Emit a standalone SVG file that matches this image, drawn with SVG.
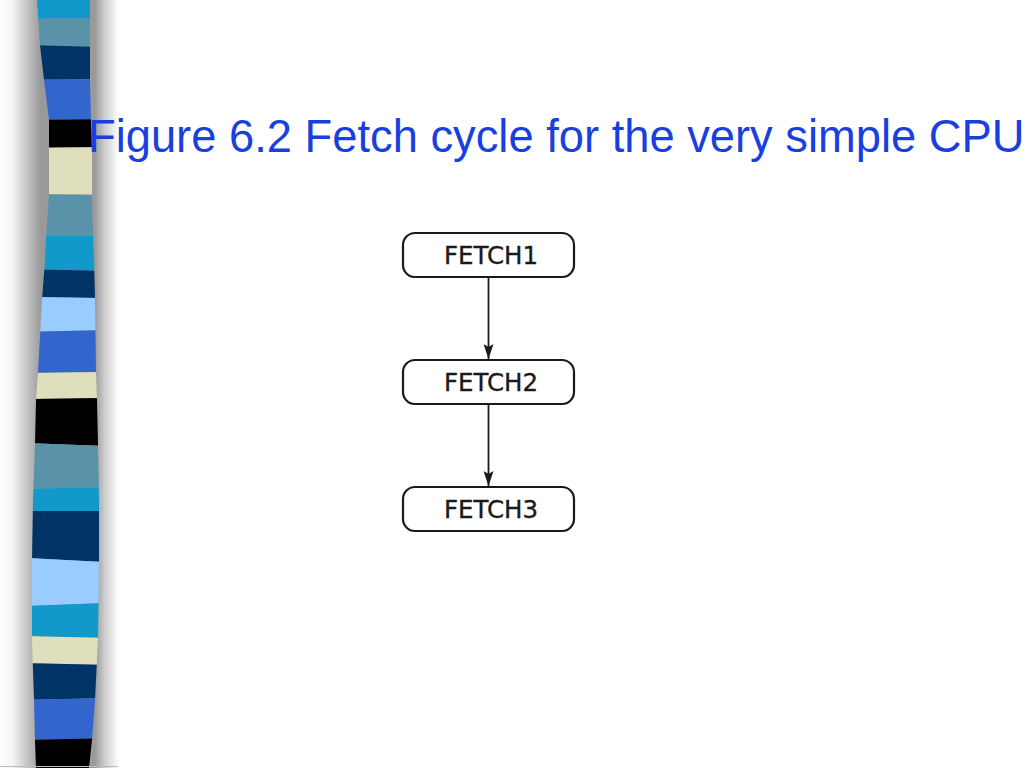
<svg xmlns="http://www.w3.org/2000/svg" width="1024" height="768" viewBox="0 0 1024 768">
  <defs>
    <linearGradient id="shadow" x1="0" y1="0" x2="125" y2="0" gradientUnits="userSpaceOnUse">
      <stop offset="0" stop-color="#ffffff"/>
      <stop offset="0.1" stop-color="#f4f4f4"/>
      <stop offset="0.25" stop-color="#b8b8b8"/>
      <stop offset="0.33" stop-color="#999999"/>
      <stop offset="0.76" stop-color="#9a9a9a"/>
      <stop offset="0.84" stop-color="#cfcfcf"/>
      <stop offset="0.95" stop-color="#ffffff"/>
    </linearGradient>
    <clipPath id="bar">
      <polygon points="37,0 40,45 44,80 49,120 49,195 46,236 45,260 42,300 38,372 36,400 35,445 33,500 32,560 32,640 34,700 35,740 36,768 89,768 92,740 95,700 98,640 99,560 99,500 98,445 97,400 96,372 95,300 94,260 93,236 92,195 92,150 91,120 90,80 90,0"/>
    </clipPath>
    <marker id="arrow" markerWidth="15" markerHeight="10" refX="15" refY="5" orient="auto" markerUnits="userSpaceOnUse" viewBox="0 0 15 10">
      <path d="M0,0 L15,5 L0,10 L3,5 Z" fill="#1a1a1a"/>
    </marker>
    <style>
      .node rect { fill: #ffffff; stroke: #1a1a1a; stroke-width: 2.2; }
      .node text { font-family: "DejaVu Sans", "Open Sans", sans-serif; font-size: 24.5px; fill: #1a1a1a; stroke: #1a1a1a; stroke-width: 0.35; text-anchor: middle; }
      .conn { stroke: #1a1a1a; stroke-width: 1.8; fill: none; marker-end: url(#arrow); }
      .title { font-family: "Liberation Sans", Arial, sans-serif; font-size: 45.3px; fill: #1a3fe0; }
    </style>
  </defs>

  <rect width="1024" height="768" fill="#ffffff"/>

  <g id="sidebar">
    <rect x="0" y="0" width="125" height="768" fill="url(#shadow)"/>
    <g clip-path="url(#bar)">
      <polygon points="25,0 105,0 105,18 25,19" fill="#1199cc"/>
      <polygon points="25,19 105,18 105,47 25,45" fill="#5a92aa"/>
      <polygon points="25,45 105,47 105,79 25,80" fill="#003366"/>
      <polygon points="25,80 105,79 105,119 25,120" fill="#3366cc"/>
      <polygon points="25,120 105,119 105,147 25,148" fill="#000000"/>
      <polygon points="25,148 105,147 105,195 25,194" fill="#e0dfbd"/>
      <polygon points="25,194 105,195 105,236 25,236" fill="#5a92aa"/>
      <polygon points="25,236 105,236 105,271 25,269" fill="#1199cc"/>
      <polygon points="25,269 105,271 105,298 25,297" fill="#003366"/>
      <polygon points="25,297 105,298 105,330 25,332" fill="#99ccff"/>
      <polygon points="25,332 105,330 105,372 25,373" fill="#3366cc"/>
      <polygon points="25,373 105,372 105,398 25,399" fill="#e0dfbd"/>
      <polygon points="25,399 105,398 105,446 25,443" fill="#000000"/>
      <polygon points="25,443 105,446 105,487 25,489" fill="#5a92aa"/>
      <polygon points="25,489 105,487 105,511 25,511" fill="#1199cc"/>
      <polygon points="25,511 105,511 105,562 25,558" fill="#003366"/>
      <polygon points="25,558 105,562 105,603 25,606" fill="#99ccff"/>
      <polygon points="25,606 105,603 105,638 25,636" fill="#1199cc"/>
      <polygon points="25,636 105,638 105,665 25,663" fill="#e0dfbd"/>
      <polygon points="25,663 105,665 105,698 25,700" fill="#003366"/>
      <polygon points="25,700 105,698 105,738 25,740" fill="#3366cc"/>
      <polygon points="25,740 105,738 105,768 25,768" fill="#000000"/>
    </g>
    <line x1="0" y1="766.5" x2="118" y2="766.5" stroke="#bdbdbd" stroke-width="1"/>
  </g>

  <text class="title" x="88" y="152">Figure 6.2 Fetch cycle for the very simple CPU</text>

  <g id="connectors">
    <line class="conn" x1="488.5" y1="278" x2="488.5" y2="359"/>
    <line class="conn" x1="488.5" y1="405" x2="488.5" y2="486"/>
  </g>

  <g id="fetch1" class="node">
    <rect x="403" y="233" width="171" height="44" rx="12"/>
    <text x="491" y="264">FETCH1</text>
  </g>
  <g id="fetch2" class="node">
    <rect x="403" y="360" width="171" height="44" rx="12"/>
    <text x="491" y="391">FETCH2</text>
  </g>
  <g id="fetch3" class="node">
    <rect x="403" y="487" width="171" height="44" rx="12"/>
    <text x="491" y="518">FETCH3</text>
  </g>
</svg>
